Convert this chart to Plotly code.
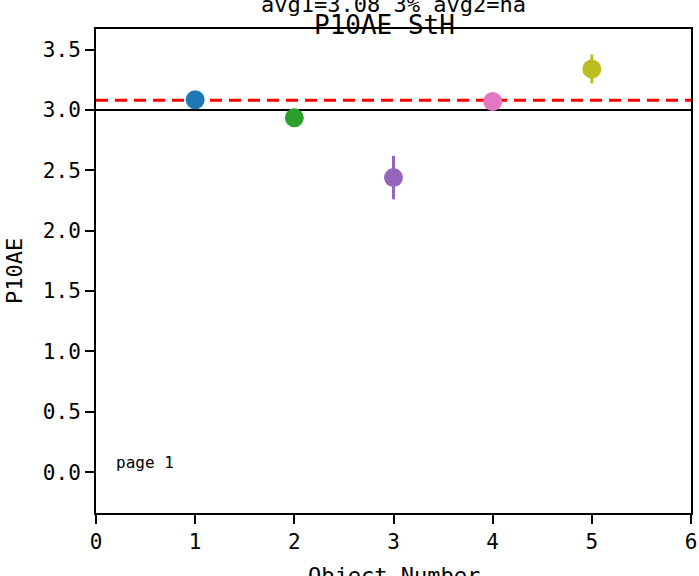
import plotly.graph_objects as go

objects = [1, 2, 3, 4, 5]
values = [3.085, 2.935, 2.44, 3.07, 3.34]
errors = [0.04, 0.03, 0.18, 0.03, 0.12]
colors = ["#1f77b4", "#2ca02c", "#9467bd", "#e377c2", "#bcbd22"]
avg1 = 3.08
ref_value = 3.0
y_ticks = [0.0, 0.5, 1.0, 1.5, 2.0, 2.5, 3.0, 3.5]
y_tick_labels = ["0.0", "0.5", "1.0", "1.5", "2.0", "2.5", "3.0", "3.5"]
x_ticks = [0, 1, 2, 3, 4, 5, 6]

FONT = "DejaVu Sans Mono"

fig = go.Figure()
for xv, yv, ev, c in zip(objects, values, errors, colors):
    fig.add_trace(go.Scatter(
        x=[xv], y=[yv], mode="markers",
        marker=dict(color=c, size=19, line=dict(width=0)),
        error_y=dict(type="data", array=[ev], visible=True, color=c, thickness=3, width=0),
        showlegend=False, cliponaxis=False, hoverinfo="skip",
    ))

fig.add_shape(type="line", xref="paper", x0=0, x1=1, yref="y", y0=ref_value, y1=ref_value,
              line=dict(color="black", width=2), layer="below")
fig.add_shape(type="line", xref="paper", x0=0, x1=1, yref="y", y0=avg1, y1=avg1,
              line=dict(color="red", width=3, dash="12px,7px"), layer="below")

fig.add_annotation(text="avg1=3.08 3% avg2=na", xref="paper", yref="paper", x=0.5, y=1,
                   xanchor="center", yanchor="bottom", yshift=10, showarrow=False,
                   font=dict(family=FONT, size=22, color="black"))
fig.add_annotation(text="P10AE StH", xref="paper", yref="paper", x=0.5, y=1,
                   xanchor="center", yanchor="bottom", yshift=-13, xshift=-9, showarrow=False,
                   font=dict(family=FONT, size=26, color="black"))
fig.add_annotation(text="Object Number", xref="paper", yref="paper", x=0.5, y=0,
                   xanchor="center", yanchor="top", yshift=-48, showarrow=False,
                   font=dict(family=FONT, size=22, color="black"))
fig.add_annotation(text="P10AE", xref="paper", yref="paper", x=0, y=0.5, textangle=-90,
                   xanchor="center", yanchor="middle", xshift=-82, showarrow=False,
                   font=dict(family=FONT, size=22, color="black"))
fig.add_annotation(text="page 1", xref="x", yref="y", x=0.18, y=0.08,
                   xanchor="left", yanchor="middle", showarrow=False,
                   font=dict(family=FONT, size=16, color="black"))

axis_common = dict(showgrid=False, zeroline=False, automargin=False,
                   showline=True, linecolor="black", linewidth=2, mirror=True,
                   ticks="outside", ticklen=9, tickwidth=2, tickcolor="black",
                   tickfont=dict(family=FONT, size=21))

fig.update_layout(
    width=699, height=576,
    margin=dict(l=96, r=8, t=29, b=63, autoexpand=False),
    paper_bgcolor="white", plot_bgcolor="white",
    font=dict(family=FONT, size=21, color="black"),
    xaxis=dict(range=[0, 6], tickvals=x_ticks, **axis_common),
    yaxis=dict(range=[-0.338, 3.671], tickvals=y_ticks, ticktext=y_tick_labels, **axis_common),
)

fig.write_html("out.html", config={"displayModeBar": False},
               post_script="document.body.style.margin='0';document.body.style.overflow='hidden';")
